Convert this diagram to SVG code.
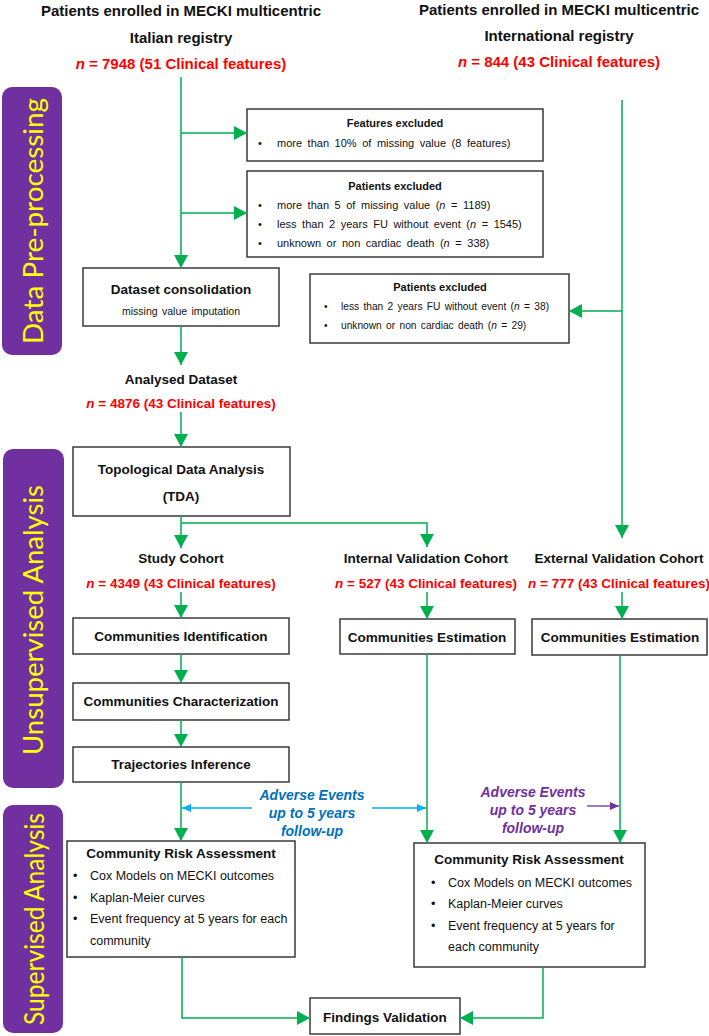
<svg xmlns="http://www.w3.org/2000/svg" width="709" height="1036" viewBox="0 0 709 1036">
<defs>
<marker id="ag" markerUnits="userSpaceOnUse" markerWidth="14" markerHeight="14" refX="13" refY="7" orient="auto"><path d="M0,0 L13,7 L0,14 z" fill="#00B050"/></marker>
<marker id="ab" markerUnits="userSpaceOnUse" markerWidth="9" markerHeight="8" refX="9" refY="4" orient="auto-start-reverse"><path d="M0,0 L9,4 L0,8 z" fill="#00B0F0"/></marker>
<marker id="ap" markerUnits="userSpaceOnUse" markerWidth="9" markerHeight="8" refX="9" refY="4" orient="auto"><path d="M0,0 L9,4 L0,8 z" fill="#7030A0"/></marker>
</defs>
<style>
text{font-family:"Liberation Sans",Arial,sans-serif;fill:#111}
.h{font-size:15px;font-weight:bold;text-anchor:middle}
.r{font-size:15px;font-weight:bold;fill:#FF0000;text-anchor:middle}
.r2{font-size:13.5px;font-weight:bold;fill:#FF0000;text-anchor:middle}
.b{font-size:13.5px;font-weight:bold;text-anchor:middle}
.st{font-size:11px;font-weight:bold;text-anchor:middle}
.s{font-size:11px;word-spacing:2.5px}
.s2{font-size:10.2px;word-spacing:1.5px}
.m{font-size:12.5px}
.box{fill:#fff;stroke:#3a3a3a;stroke-width:1.5}
.g{fill:none;stroke:#00B050;stroke-width:1.5}
.bar{fill:#7030A0}
.side{font-family:Lato,"Open Sans",sans-serif;font-size:27px;fill:#FFFF00;text-anchor:middle}
.bl{font-size:14px;font-weight:bold;font-style:italic;fill:#0070C0;text-anchor:middle}
.pu{font-size:14px;font-weight:bold;font-style:italic;fill:#7030A0;text-anchor:middle}
</style>

<g id="bar-preprocessing"><rect class="bar" x="2" y="87" width="60" height="268" rx="10"/><text class="side" transform="translate(43,221) rotate(-90)" textLength="246" lengthAdjust="spacingAndGlyphs">Data Pre-processing</text></g>
<g id="bar-unsupervised"><rect class="bar" x="3" y="449" width="61" height="339" rx="10"/><text class="side" transform="translate(43,620) rotate(-90)" textLength="270" lengthAdjust="spacingAndGlyphs">Unsupervised Analysis</text></g>
<g id="bar-supervised"><rect class="bar" x="3" y="805" width="60" height="228" rx="10"/><text class="side" transform="translate(44,919) rotate(-90)" textLength="212" lengthAdjust="spacingAndGlyphs">Supervised Analysis</text></g>

<g id="italian-registry">
<text class="h" x="181" y="16">Patients enrolled in MECKI multicentric</text>
<text class="h" x="181" y="43">Italian registry</text>
<text class="r" x="181" y="69"><tspan font-style="italic">n</tspan> = 7948 (51 Clinical features)</text>
</g>
<g id="international-registry">
<text class="h" x="559" y="15">Patients enrolled in MECKI multicentric</text>
<text class="h" x="559" y="41">International registry</text>
<text class="r" x="559" y="67"><tspan font-style="italic">n</tspan> = 844 (43 Clinical features)</text>
</g>

<g id="features-excluded">
<rect class="box" x="247" y="109" width="296" height="52"/>
<text class="st" x="395" y="127">Features excluded</text>
<text class="s" x="258" y="147">•</text><text class="s" x="277" y="147">more than 10% of missing value (8 features)</text>
</g>
<g id="patients-excluded-1">
<rect class="box" x="247" y="171" width="296" height="86"/>
<text class="st" x="395" y="190">Patients excluded</text>
<text class="s" x="258" y="209">•</text><text class="s" x="277" y="209">more than 5 of missing value (<tspan font-style="italic">n</tspan> = 1189)</text>
<text class="s" x="258" y="228">•</text><text class="s" x="277" y="228">less than 2 years FU without event (<tspan font-style="italic">n</tspan> = 1545)</text>
<text class="s" x="258" y="247">•</text><text class="s" x="277" y="247">unknown or non cardiac death (<tspan font-style="italic">n</tspan> = 338)</text>
</g>
<g id="patients-excluded-2">
<rect class="box" x="310" y="274" width="259" height="69"/>
<text class="st" x="440" y="291">Patients excluded</text>
<text class="s2" x="324" y="310">•</text><text class="s2" x="341" y="310">less than 2 years FU without event (<tspan font-style="italic">n</tspan> = 38)</text>
<text class="s2" x="324" y="329">•</text><text class="s2" x="341" y="329">unknown or non cardiac death (<tspan font-style="italic">n</tspan> = 29)</text>
</g>
<g id="dataset-consolidation">
<rect class="box" x="83" y="268" width="196" height="58"/>
<text class="b" x="181" y="294">Dataset consolidation</text>
<text x="181" y="315" font-size="10.5" text-anchor="middle" word-spacing="1.5">missing value imputation</text>
</g>
<g id="analysed-dataset">
<text class="b" x="181" y="384" font-size="14">Analysed Dataset</text>
<text class="r2" x="181" y="408"><tspan font-style="italic">n</tspan> = 4876 (43 Clinical features)</text>
</g>
<g id="tda">
<rect class="box" x="73" y="447" width="217" height="69"/>
<text class="b" x="181" y="474">Topological Data Analysis</text>
<text class="b" x="181" y="501">(TDA)</text>
</g>
<g id="study-cohort">
<text class="b" x="181" y="563">Study Cohort</text>
<text class="r2" x="181" y="588"><tspan font-style="italic">n</tspan> = 4349 (43 Clinical features)</text>
</g>
<g id="internal-cohort">
<text class="b" x="426" y="563">Internal Validation Cohort</text>
<text class="r2" x="426" y="588"><tspan font-style="italic">n</tspan> = 527 (43 Clinical features)</text>
</g>
<g id="external-cohort">
<text class="b" x="619" y="563">External Validation Cohort</text>
<text class="r2" x="619" y="588"><tspan font-style="italic">n</tspan> = 777 (43 Clinical features)</text>
</g>
<g id="communities-identification">
<rect class="box" x="73" y="618" width="216" height="36"/>
<text class="b" x="181" y="641">Communities Identification</text>
</g>
<g id="communities-characterization">
<rect class="box" x="73" y="683" width="216" height="37"/>
<text class="b" x="181" y="706">Communities Characterization</text>
</g>
<g id="trajectories-inference">
<rect class="box" x="73" y="747" width="216" height="35"/>
<text class="b" x="181" y="769">Trajectories Inference</text>
</g>
<g id="communities-estimation-int">
<rect class="box" x="340" y="619" width="175" height="35"/>
<text class="b" x="427" y="642">Communities Estimation</text>
</g>
<g id="communities-estimation-ext">
<rect class="box" x="532" y="619" width="175" height="36"/>
<text class="b" x="620" y="642">Communities Estimation</text>
</g>
<g id="risk-assessment-1">
<rect class="box" x="67" y="841" width="228" height="116"/>
<text class="b" x="181" y="858">Community Risk Assessment</text>
<text class="m" x="73" y="880">•</text><text class="m" x="90" y="880">Cox Models on MECKI outcomes</text>
<text class="m" x="73" y="902">•</text><text class="m" x="90" y="902">Kaplan-Meier curves</text>
<text class="m" x="73" y="923">•</text><text class="m" x="90" y="923">Event frequency at 5 years for each</text>
<text class="m" x="90" y="945">community</text>
</g>
<g id="risk-assessment-2">
<rect class="box" x="414" y="843" width="231" height="124"/>
<text class="b" x="529" y="864">Community Risk Assessment</text>
<text class="m" x="431" y="887">•</text><text class="m" x="448" y="887">Cox Models on MECKI outcomes</text>
<text class="m" x="431" y="908">•</text><text class="m" x="448" y="908">Kaplan-Meier curves</text>
<text class="m" x="431" y="930">•</text><text class="m" x="448" y="930">Event frequency at 5 years for</text>
<text class="m" x="448" y="951">each community</text>
</g>
<g id="findings-validation">
<rect class="box" x="310" y="998" width="150" height="36"/>
<text class="b" x="385" y="1022">Findings Validation</text>
</g>
<g id="label-adverse-internal">
<text class="bl" x="312" y="800">Adverse Events</text>
<text class="bl" x="312" y="818">up to 5 years</text>
<text class="bl" x="312" y="836">follow-up</text>
</g>
<g id="label-adverse-external">
<text class="pu" x="533" y="797">Adverse Events</text>
<text class="pu" x="533" y="815">up to 5 years</text>
<text class="pu" x="533" y="833">follow-up</text>
</g>

<g id="connectors">
<path class="g" d="M181,77 V268" marker-end="url(#ag)"/>
<path class="g" d="M181,133 H247" marker-end="url(#ag)"/>
<path class="g" d="M181,213 H247" marker-end="url(#ag)"/>
<path class="g" d="M622,100 V538" marker-end="url(#ag)"/>
<path class="g" d="M622,311 H569" marker-end="url(#ag)"/>
<path class="g" d="M181,326 V365" marker-end="url(#ag)"/>
<path class="g" d="M181,412 V447" marker-end="url(#ag)"/>
<path class="g" d="M181,516 V548" marker-end="url(#ag)"/>
<path class="g" d="M181,523 H427 V547" marker-end="url(#ag)"/>
<path class="g" d="M181,592 V618" marker-end="url(#ag)"/>
<path class="g" d="M427,592 V619" marker-end="url(#ag)"/>
<path class="g" d="M622,592 V619" marker-end="url(#ag)"/>
<path class="g" d="M181,654 V683" marker-end="url(#ag)"/>
<path class="g" d="M181,720 V747" marker-end="url(#ag)"/>
<path class="g" d="M181,782 V841" marker-end="url(#ag)"/>
<path class="g" d="M427,654 V843" marker-end="url(#ag)"/>
<path class="g" d="M620,655 V843" marker-end="url(#ag)"/>
<path class="g" d="M182,957 V1018 H310" marker-end="url(#ag)"/>
<path class="g" d="M543,967 V1018 H460" marker-end="url(#ag)"/>
<path d="M252,808 H182" fill="none" stroke="#00B0F0" stroke-width="1.3" marker-end="url(#ab)"/>
<path d="M372,808 H426" fill="none" stroke="#00B0F0" stroke-width="1.3" marker-end="url(#ab)"/>
<path d="M587,806 H619" fill="none" stroke="#7030A0" stroke-width="1.3" marker-end="url(#ap)"/>
</g>
</svg>
